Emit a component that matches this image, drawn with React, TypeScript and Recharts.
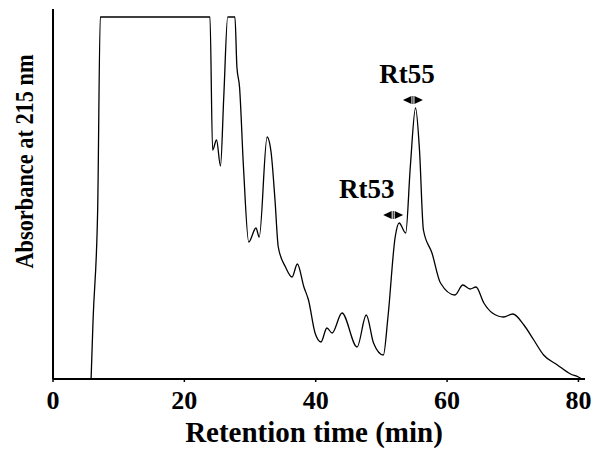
import React from "react";
import { LineChart, Line, XAxis, YAxis, ReferenceDot, Label } from "recharts";

// Retention time (min) and detector response (arbitrary units, clipped at the top)
const times = [
  5.8, 6.1, 6.8, 7.2, 23.9, 24.3, 24.9, 25.5, 26.0, 26.6, 27.7, 28.0, 28.4, 29.0, 29.8, 30.9, 31.4, 32.6, 33.2,
  33.8, 34.3, 35.4, 36.4, 37.2, 38.2, 38.9, 39.9, 40.8, 41.7, 42.5, 44.0, 46.3, 47.7, 48.8, 50.3, 51.0, 52.1,
  52.7, 53.7, 54.4, 55.2, 55.8, 56.4, 57.7, 59.0, 61.2, 62.4, 63.5, 64.4, 65.6, 66.9, 68.6, 70.0, 71.7, 73.2,
  74.7, 76.8, 78.8, 80.0, 80.5,
];
const absorbance = [
  0, 59, 169, 362, 362, 229, 239, 213, 282, 362, 362, 312, 292, 212, 137, 151, 142, 242, 227,
  179, 132, 112, 102, 115, 92, 79, 46, 37, 51, 46, 66, 32, 64, 36, 24, 62, 142,
  156, 146, 212, 271, 229, 149, 126, 96, 84, 94, 90, 92, 76, 66, 62, 65, 54, 39,
  24, 14, 5, 2, 0,
];
const xTicks = [0, 20, 40, 60, 80];

// annotated fractions
const peakLabels = ["Rt53", "Rt55"];
const peakTimes = [51.8, 54.8];
const peakLevels = [164, 279];
const labelShift = [-26.5, -6];

const chartData = times.map((t, i) => ({ t, a: absorbance[i] }));

const FONT = '"Liberation Serif", "Times New Roman", serif';

const makeArrow = (text: string, dx: number) => (props: any) => {
  const { cx, cy } = props;
  if (cx == null || cy == null) return null;
  return (
    <g>
      <polygon points={`${cx - 10},${cy} ${cx - 1.5},${cy - 4} ${cx - 1.5},${cy + 4}`} fill="#000" />
      <polygon points={`${cx + 10},${cy} ${cx + 1.5},${cy - 4} ${cx + 1.5},${cy + 4}`} fill="#000" />
      <line x1={cx} y1={cy - 4} x2={cx} y2={cy + 4} stroke="#000" strokeWidth={1} />
      <text
        x={cx + dx}
        y={cy - 17}
        textAnchor="middle"
        fontFamily={FONT}
        fontWeight="bold"
        fontSize={27}
        fill="#000"
      >
        {text}
      </text>
    </g>
  );
};

export default function App() {
  return (
    <div style={{ position: "absolute", left: 0, top: 0, background: "#fff" }}>
      <LineChart width={599} height={454} data={chartData} margin={{ top: 9, right: 14, bottom: 5, left: 43 }}>
        <XAxis
          type="number"
          dataKey="t"
          domain={[0, 81]}
          ticks={xTicks}
          height={70}
          axisLine={{ stroke: "#000", strokeWidth: 2 }}
          tickLine={{ stroke: "#000", strokeWidth: 1.5 }}
          tickSize={3}
          tickMargin={9}
          tick={{ fill: "#000", fontSize: 26, fontWeight: "bold", fontFamily: FONT }}
        >
          <Label
            content={() => (
              <text x={314} y={442} textAnchor="middle" fontFamily={FONT} fontWeight="bold" fontSize={29} fill="#000">
                Retention time (min)
              </text>
            )}
          />
        </XAxis>
        <YAxis
          type="number"
          domain={[0, 370]}
          width={10}
          tick={false}
          tickLine={false}
          axisLine={{ stroke: "#000", strokeWidth: 2 }}
        >
          <Label
            content={() => (
              <text
                transform="translate(33,161.5) rotate(-90) scale(0.86,1)"
                textAnchor="middle"
                fontFamily={FONT}
                fontWeight="bold"
                fontSize={26}
                fill="#000"
              >
                Absorbance at 215 nm
              </text>
            )}
          />
        </YAxis>
        <Line
          type="monotone"
          dataKey="a"
          stroke="#000"
          strokeWidth={1.3}
          dot={false}
          isAnimationActive={false}
        />
        {peakLabels.map((p, i) => (
          <ReferenceDot
            key={p}
            x={peakTimes[i]}
            y={peakLevels[i]}
            r={0}
            shape={makeArrow(p, labelShift[i])}
          />
        ))}
      </LineChart>
    </div>
  );
}
